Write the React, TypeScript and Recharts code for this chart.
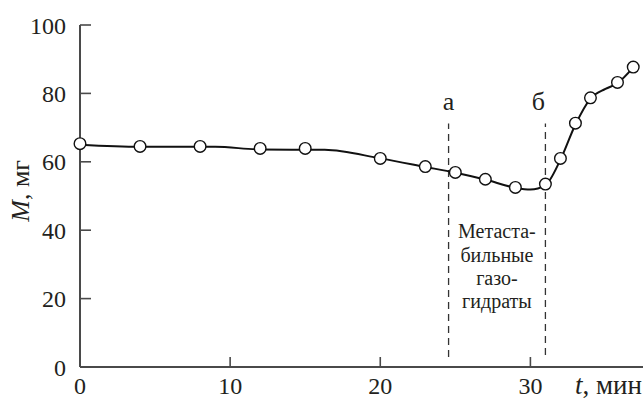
import React from 'react';
import {
  ComposedChart,
  Line,
  Scatter,
  XAxis,
  YAxis,
  ReferenceLine,
  ReferenceDot,
} from 'recharts';

// measured points (open circles)
const pointT = [0, 4, 8, 12, 15, 20, 23, 25, 27, 29, 31, 32, 33, 34, 35.8, 36.85];
const pointM = [65.3, 64.5, 64.5, 63.9, 63.9, 61.0, 58.6, 56.9, 54.9, 52.5, 53.5, 61.0, 71.3, 78.7, 83.2, 87.7];

// smoothed curve drawn through the points
const curveT = [0, 4, 9, 12, 16.3, 20, 23, 25, 27, 29, 30, 31, 32, 33, 34, 35, 35.8, 36.85];
const curveM = [65.0, 64.4, 64.4, 63.6, 63.5, 61.0, 58.5, 56.8, 54.8, 52.4, 51.9, 53.2, 60.6, 70.9, 78.5, 81.3, 83.0, 87.6];

const xTicks = [0, 10, 20, 30];
const yTicks = [0, 20, 40, 60, 80, 100];

// boundaries of the metastable region
const boundA = 24.55;
const boundB = 31.0;
const noteLines = ['Метаста-', 'бильные', 'газо-', 'гидраты'];

const points = pointT.map((t, i) => ({ t, m: pointM[i] }));
const curve = curveT.map((t, i) => ({ t, m: curveM[i] }));

const FONT = 'Liberation Serif, Tinos, DejaVu Serif, Noto Serif, serif';
const INK = '#231f20';
const AXIS = '#4a4a4a';

const txt = (size: number) => ({ fontFamily: FONT, fontSize: size, fill: INK });

const XTick = (props: any) => {
  const { x, y, payload } = props;
  return (
    <g>
      <line x1={x} x2={x} y1={y} y2={y - 10} stroke={AXIS} strokeWidth={1.6} />
      <text x={x} y={y + 27} textAnchor="middle" style={txt(24)}>
        {payload.value}
      </text>
    </g>
  );
};

const YTick = (props: any) => {
  const { x, y, payload } = props;
  return (
    <g>
      <line x1={x} x2={x + 11} y1={y} y2={y} stroke={AXIS} strokeWidth={1.6} />
      <text x={x - 14} y={y + 8.5} textAnchor="end" style={txt(24)}>
        {payload.value}
      </text>
    </g>
  );
};

const Marker = (props: any) => (
  <circle cx={props.cx} cy={props.cy} r={5.8} fill="#fff" stroke="#111" strokeWidth={1.4} />
);

const Letter = (text: string, dx: number) => (props: any) => (
  <text x={props.cx + dx} y={props.cy} textAnchor="middle" style={txt(26)}>
    {text}
  </text>
);

const Note = (props: any) => (
  <text x={props.cx} y={props.cy} textAnchor="middle" style={txt(20)}>
    {noteLines.map((s, i) => (
      <tspan key={i} x={props.cx} dy={i === 0 ? 0 : 23.3}>
        {s}
      </tspan>
    ))}
  </text>
);

const XLabel = (props: any) => {
  const { x, y, width } = props.viewBox;
  return (
    <text x={x + width - 1} y={y + 27} textAnchor="end" style={txt(27)}>
      <tspan fontStyle="italic">t</tspan>
      <tspan>, мин</tspan>
    </text>
  );
};

const YLabel = (props: any) => {
  const { y, height } = props.viewBox;
  const cx = 20;
  const cy = y + height * 0.485;
  return (
    <text
      x={cx}
      y={cy}
      transform={`rotate(-90, ${cx}, ${cy})`}
      textAnchor="middle"
      dominantBaseline="central"
      style={txt(26)}
    >
      <tspan fontStyle="italic">M</tspan>
      <tspan>, мг</tspan>
    </text>
  );
};

export default function App() {
  return (
    <div style={{ position: 'absolute', left: 0, top: 0, background: '#fff' }}>
      <ComposedChart width={643} height={399} margin={{ top: 25, right: 0, bottom: 0, left: 0 }}>
        <XAxis
          type="number"
          dataKey="t"
          domain={[0, 37.5]}
          ticks={xTicks}
          tick={<XTick />}
          tickLine={false}
          tickSize={0}
          tickMargin={0}
          height={32}
          axisLine={{ stroke: AXIS, strokeWidth: 2 }}
          label={{ content: <XLabel /> }}
        />
        <YAxis
          type="number"
          domain={[0, 100]}
          ticks={yTicks}
          tick={<YTick />}
          tickLine={false}
          tickSize={0}
          tickMargin={0}
          width={80}
          axisLine={{ stroke: AXIS, strokeWidth: 2 }}
          label={{ content: <YLabel /> }}
        />
        <ReferenceLine
          segment={[{ x: boundA, y: 2.9 }, { x: boundA, y: 71.2 }]}
          stroke="#333"
          strokeWidth={1.3}
          strokeDasharray="7 5"
        />
        <ReferenceLine
          segment={[{ x: boundB, y: 3.5 }, { x: boundB, y: 71.2 }]}
          stroke="#333"
          strokeWidth={1.3}
          strokeDasharray="7 5"
        />
        <Line
          data={curve}
          dataKey="m"
          type="monotone"
          stroke="#111"
          strokeWidth={2}
          dot={false}
          isAnimationActive={false}
        />
        <Scatter data={points} dataKey="m" shape={<Marker />} isAnimationActive={false} />
        <ReferenceDot x={boundA} y={75.1} r={0} shape={Letter('а', 0)} ifOverflow="visible" />
        <ReferenceDot x={boundB} y={75.1} r={0} shape={Letter('б', -7)} ifOverflow="visible" />
        <ReferenceDot x={27.77} y={37.6} r={0} shape={Note} ifOverflow="visible" />
      </ComposedChart>
    </div>
  );
}
